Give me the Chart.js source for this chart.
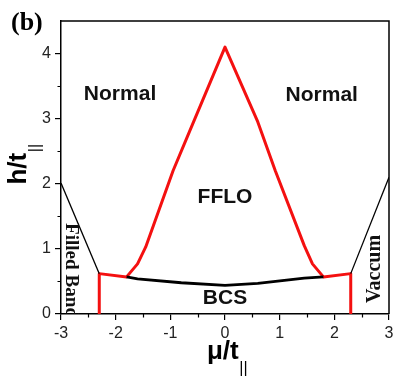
<!DOCTYPE html>
<html>
<head>
<meta charset="utf-8">
<script src="https://cdn.jsdelivr.net/npm/chart.js@4.4.0/dist/chart.umd.min.js"></script>
<style>
  html, body { margin: 0; padding: 0; background: #fff; }
</style>
</head>
<body>
<canvas id="phase" width="408" height="377"></canvas>
<script>
// phase boundaries, mu/t (x) against h/t (y)
const ffloMu = [-2.3, -2.3, -1.8, -1.6, -1.45, -0.95, -0.65, 0, 0.6, 0.92, 1.45, 1.6, 1.8, 2.3, 2.3];
const ffloH  = [0, 0.62, 0.57, 0.77, 1.03, 2.2, 2.8, 4.1, 2.95, 2.2, 1.05, 0.77, 0.57, 0.62, 0];
const bcsMu = [-1.8, -1.6, -0.8, 0, 0.6, 1.45, 1.8];
const bcsH  = [0.57, 0.54, 0.48, 0.44, 0.47, 0.55, 0.57];
const filledMu = [-3, -2.3];
const filledH  = [2.01, 0.62];
const vacuumMu = [2.3, 3];
const vacuumH  = [0.62, 2.1];

const xTicks = [-3, -2, -1, 0, 1, 2, 3];
const yTicks = [0, 1, 2, 3, 4];
const regionNames = ['Normal', 'Normal', 'FFLO', 'BCS'];

const SANS = "'Liberation Sans', Arial, sans-serif";
const SERIF = "'Liberation Serif', 'Times New Roman', serif";
Chart.defaults.font.family = SANS;

function pts(xs, ys) {
  return xs.map((v, i) => ({ x: v, y: ys[i] }));
}

// where the region names sit, in data units
const regionSpots = [[-1.92, 3.38], [1.77, 3.36], [0, 1.79], [0, 0.24]];

const extras = {
  id: 'extras',
  afterDraw(chart) {
    const ctx = chart.ctx;
    const a = chart.chartArea;
    const sx = chart.scales.x, sy = chart.scales.y;
    ctx.save();

    // close the frame
    ctx.strokeStyle = '#000';
    ctx.lineWidth = 1.5;
    ctx.beginPath();
    ctx.moveTo(a.left, a.top);
    ctx.lineTo(a.right, a.top);
    ctx.lineTo(a.right, a.bottom);
    ctx.stroke();

    // minor ticks
    ctx.lineWidth = 1.2;
    ctx.beginPath();
    for (let v = -2.5; v < 3; v += 1) {
      const p = Math.round(sx.getPixelForValue(v)) + 0.5;
      ctx.moveTo(p, a.bottom);
      ctx.lineTo(p, a.bottom + 3.5);
    }
    for (let v = 0.5; v < 4.5; v += 1) {
      const p = Math.round(sy.getPixelForValue(v)) + 0.5;
      ctx.moveTo(a.left, p);
      ctx.lineTo(a.left - 3.5, p);
    }
    ctx.stroke();

    // region names
    ctx.fillStyle = '#111';
    ctx.font = 'bold 21px ' + SANS;
    ctx.textAlign = 'center';
    ctx.textBaseline = 'middle';
    regionNames.forEach((name, i) => {
      ctx.fillText(name, sx.getPixelForValue(regionSpots[i][0]), sy.getPixelForValue(regionSpots[i][1]));
    });

    // side labels (serif, rotated); the left one runs into the axis
    ctx.save();
    ctx.beginPath();
    ctx.rect(a.left, a.top, a.right - a.left, a.bottom - a.top);
    ctx.clip();
    ctx.font = 'bold 18px ' + SERIF;
    const fw = ctx.measureText('Filled Band').width;
    ctx.translate(a.left + 9.5, a.top + 202);
    ctx.rotate(Math.PI / 2);
    ctx.scale(95 / fw, 1);
    ctx.textAlign = 'left';
    ctx.fillText('Filled Band', 0, 0);
    ctx.restore();

    ctx.save();
    ctx.font = 'bold 20px ' + SERIF;
    ctx.translate(a.right - 14, a.top + 248);
    ctx.rotate(-Math.PI / 2);
    ctx.textAlign = 'center';
    ctx.textBaseline = 'middle';
    ctx.fillText('Vaccum', 0, 0);
    ctx.restore();

    // axis titles with the || subscript
    const title = (main, sub) => {
      ctx.font = 'bold 26px ' + SANS;
      const w1 = ctx.measureText(main).width;
      ctx.font = '16px ' + SANS;
      const w2 = ctx.measureText(sub).width;
      const left = -(w1 + w2) / 2;
      ctx.textAlign = 'left';
      ctx.textBaseline = 'alphabetic';
      ctx.font = 'bold 26px ' + SANS;
      ctx.fillText(main, left, 0);
      ctx.font = '16px ' + SANS;
      ctx.fillText(sub, left + w1 + 0.5, 14);
    };
    ctx.fillStyle = '#000';
    ctx.save();
    ctx.translate(sx.getPixelForValue(0) + 2, a.bottom + 45);
    title('\u03bc/t', '||');
    ctx.restore();

    ctx.save();
    ctx.translate(26, (a.top + a.bottom) / 2 - 3);
    ctx.rotate(-Math.PI / 2);
    title('h/t', '||');
    ctx.restore();

    // panel letter
    ctx.font = 'bold 26px ' + SERIF;
    ctx.textAlign = 'left';
    ctx.fillText('(b)', 11, 23);

    ctx.restore();
  }
};

const phase = new Chart(document.getElementById('phase'), {
  type: 'scatter',
  data: {
    datasets: [
      { data: pts(filledMu, filledH), borderColor: '#000', borderWidth: 1.3 },
      { data: pts(vacuumMu, vacuumH), borderColor: '#000', borderWidth: 1.3 },
      { data: pts(bcsMu, bcsH), borderColor: '#000', borderWidth: 2.8 },
      { data: pts(ffloMu, ffloH), borderColor: '#f41010', borderWidth: 3 }
    ]
  },
  options: {
    responsive: false,
    animation: false,
    showLine: true,
    layout: { padding: { top: 21, right: 19, left: 0, bottom: 0 } },
    elements: { point: { radius: 0 }, line: { tension: 0, borderJoinStyle: 'round' } },
    plugins: { legend: { display: false }, tooltip: { enabled: false } },
    scales: {
      x: {
        type: 'linear',
        min: -3,
        max: 3,
        afterBuildTicks: s => { s.ticks = xTicks.map(v => ({ value: v })); },
        afterFit: s => { s.height = 63; },
        border: { color: '#000', width: 1.5 },
        grid: { drawOnChartArea: false, color: '#000', tickLength: 6, lineWidth: 1.2 },
        ticks: { color: '#222', font: { size: 16 }, padding: 4, maxRotation: 0 }
      },
      y: {
        type: 'linear',
        min: 0,
        max: 4.5,
        afterBuildTicks: s => { s.ticks = yTicks.map(v => ({ value: v })); },
        afterFit: s => { s.width = 61; },
        border: { color: '#000', width: 1.5 },
        grid: { drawOnChartArea: false, color: '#000', tickLength: 6, lineWidth: 1.2 },
        ticks: { color: '#222', font: { size: 16 }, padding: 4 }
      }
    }
  },
  plugins: [extras]
});
</script>
</body>
</html>
